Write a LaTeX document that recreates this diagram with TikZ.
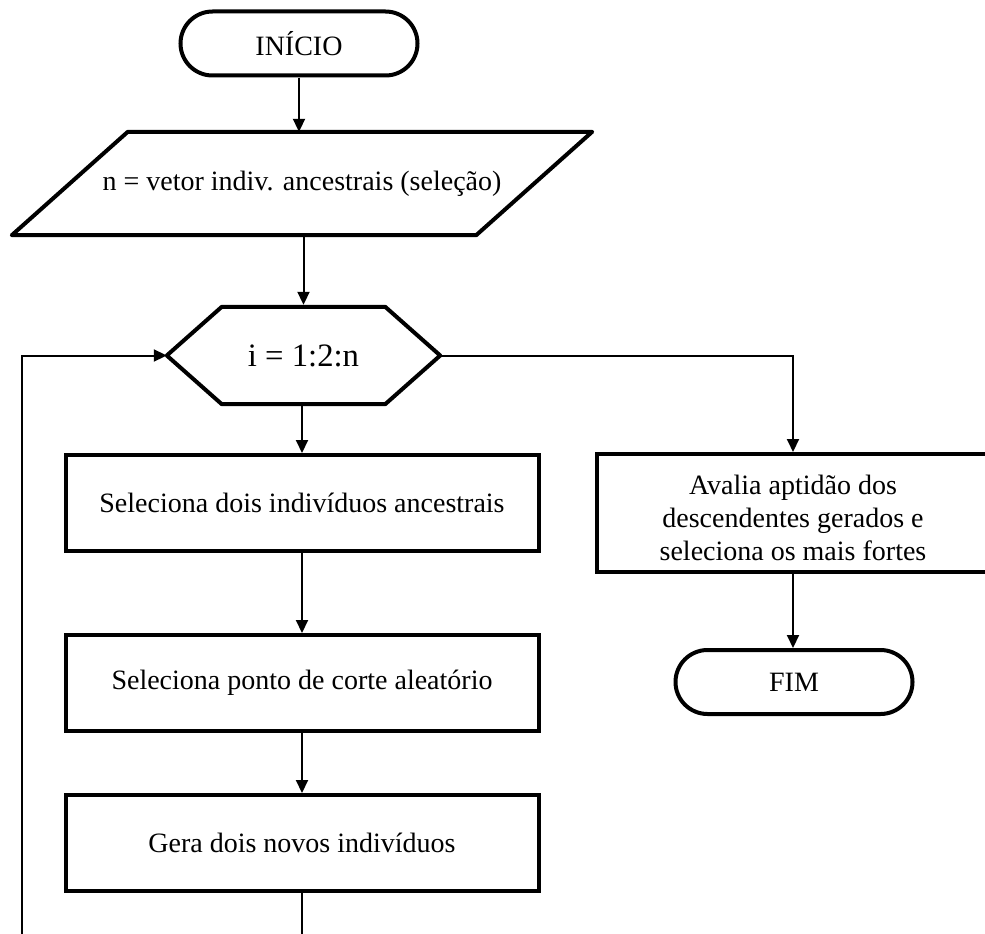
\documentclass[tikz,border=0pt]{standalone}
\usepackage{fontspec}
\setmainfont{Liberation Serif}
\usetikzlibrary{arrows.meta,shapes.misc}
\begin{document}
\begin{tikzpicture}[x=1pt,y=-1pt,
  flow/.style={line width=2pt},
  arr/.style={flow,-{Triangle[length=13pt,width=12pt]}},
  border/.style={line width=4pt, line join=round},
  label/.style={font=\fontsize{28}{33}\selectfont, inner sep=0pt, align=center},
  stepbox/.style={label, draw, line width=4pt, minimum width=473, minimum height=96},
  terminal/.style={label, draw, line width=4pt, rounded rectangle, minimum width=237, minimum height=64},
]
\clip (0,0) rectangle (985,934);
\fill[white] (0,0) rectangle (985,934);

% start terminal
\node[terminal] (ini) at (299,43.5) {INÍCIO};

% input: parallelogram drawn around a plain text node
\node[label, minimum width=464, minimum height=103] (par) at (302,183.5)
  {n = vetor indiv. ancestrais (seleção)};
\draw[border] ([xshift=58]par.north west) -- ([xshift=58]par.north east)
  -- ([xshift=-58]par.south east) -- ([xshift=-58]par.south west) -- cycle;

% loop header: hexagon drawn around a plain text node
\node[label, font=\fontsize{32.7}{38}\selectfont, minimum width=273, minimum height=97]
  (hex) at (303.5,355.5) {i = 1:2:n};
\draw[border] ([xshift=55]hex.north west) -- ([xshift=-55]hex.north east)
  -- (hex.east) -- ([xshift=-55]hex.south east)
  -- ([xshift=55]hex.south west) -- (hex.west) -- cycle;

% loop body
\node[stepbox] (b1) at (302,503) {Seleciona dois indivíduos ancestrais};
\node[stepbox] (b2) at (302,683) {Seleciona ponto de corte aleatório};
\node[stepbox] (b3) at (302,843) {Gera dois novos indivíduos};

% after the loop
\node[stepbox, minimum width=392, minimum height=118] (aval) at (793,513) {};
\node[label] (avaltxt) at ([yshift=-5]aval.center)
  {Avalia aptidão dos\\descendentes gerados e\\seleciona os mais fortes};
\node[terminal] (fim) at (794,682) {FIM};

% connectors
\draw[arr] (ini.south) -- (ini.south |- par.north);
\draw[arr] (par.south -| hex.north) -- ([yshift=2]hex.north);
\draw[arr] (hex.south -| b1.north) -- (b1.north);
\draw[arr] (b1.south) -- (b2.north);
\draw[arr] (b2.south) -- (b3.north);
\draw[arr] (hex.east) -| (aval.north);
\draw[arr] (aval.south) -- (aval.south |- fim.north);

% loop back to the header
\coordinate (back) at (22,980);
\draw[arr] (b3.south) |- (back) |- (hex.west);
\end{tikzpicture}
\end{document}
